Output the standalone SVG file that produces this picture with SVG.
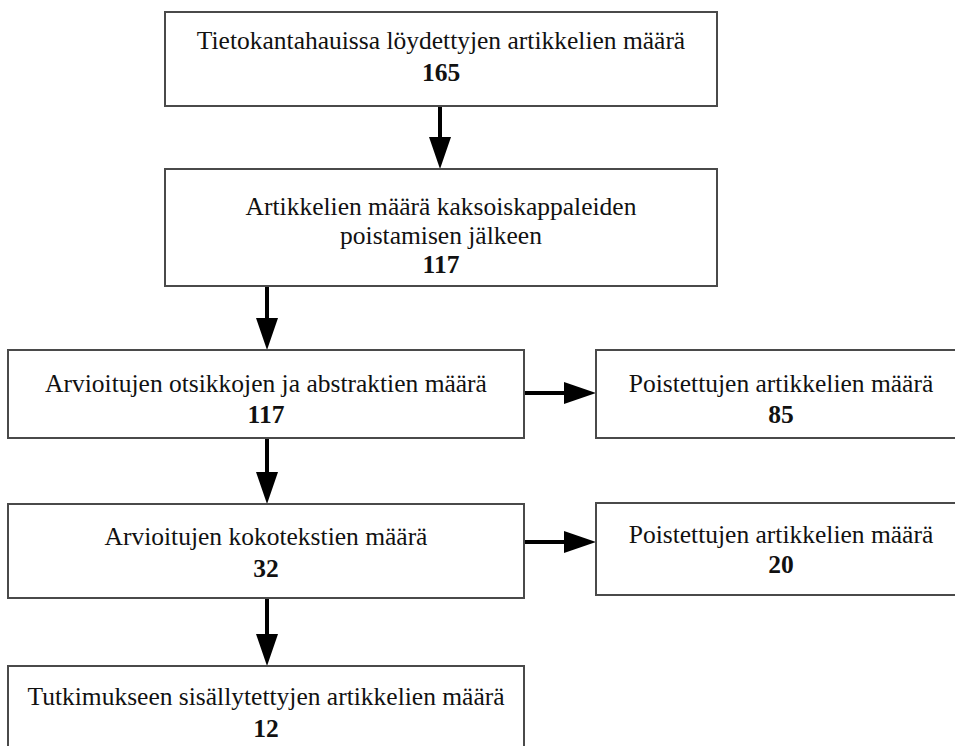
<svg xmlns="http://www.w3.org/2000/svg" width="955" height="746" viewBox="0 0 955 746">
<defs>
<style>
.box{fill:#fff;stroke:#4a4a4a;stroke-width:2}
.t{font-family:"Liberation Serif","Times New Roman",serif;font-size:25.5px;fill:#111;text-anchor:middle}
.n{font-weight:bold}
.c{stroke:#000;stroke-width:4;fill:none;marker-end:url(#ah)}
</style>
<marker id="ah" markerUnits="userSpaceOnUse" markerWidth="32" markerHeight="22" refX="1" refY="11" orient="auto" overflow="visible">
<path d="M0,0 L32,11 L0,22 Z" fill="#000"/>
</marker>
</defs>
<rect width="955" height="746" fill="#fff"/>
<g id="connectors">
<line class="c" x1="440" y1="106" x2="440" y2="138"/>
<line class="c" x1="267" y1="286" x2="267" y2="319"/>
<line class="c" x1="267" y1="438" x2="267" y2="473"/>
<line class="c" x1="267" y1="598" x2="267" y2="635"/>
<line class="c" x1="524" y1="393" x2="565" y2="393"/>
<line class="c" x1="524" y1="542" x2="565" y2="542"/>
</g>
<g id="n1">
<rect class="box" x="165" y="12" width="552" height="94"/>
<text class="t" x="441" y="49">Tietokantahauissa löydettyjen artikkelien määrä</text>
<text class="t n" x="441" y="81">165</text>
</g>
<g id="n2">
<rect class="box" x="165" y="169" width="552" height="117"/>
<text class="t" x="441" y="215">Artikkelien määrä kaksoiskappaleiden</text>
<text class="t" x="441" y="244">poistamisen jälkeen</text>
<text class="t n" x="441" y="273">117</text>
</g>
<g id="n3">
<rect class="box" x="8" y="350" width="516" height="88"/>
<text class="t" x="266" y="392">Arvioitujen otsikkojen ja abstraktien määrä</text>
<text class="t n" x="266" y="423">117</text>
</g>
<g id="n4">
<rect class="box" x="596" y="350" width="370" height="88"/>
<text class="t" x="781" y="392">Poistettujen artikkelien määrä</text>
<text class="t n" x="781" y="423">85</text>
</g>
<g id="n5">
<rect class="box" x="8" y="504" width="516" height="94"/>
<text class="t" x="266" y="545">Arvioitujen kokotekstien määrä</text>
<text class="t n" x="266" y="577">32</text>
</g>
<g id="n6">
<rect class="box" x="596" y="503" width="370" height="92"/>
<text class="t" x="781" y="543">Poistettujen artikkelien määrä</text>
<text class="t n" x="781" y="573">20</text>
</g>
<g id="n7">
<rect class="box" x="8" y="666" width="516" height="100"/>
<text class="t" x="266" y="705">Tutkimukseen sisällytettyjen artikkelien määrä</text>
<text class="t n" x="266" y="737">12</text>
</g>
</svg>
